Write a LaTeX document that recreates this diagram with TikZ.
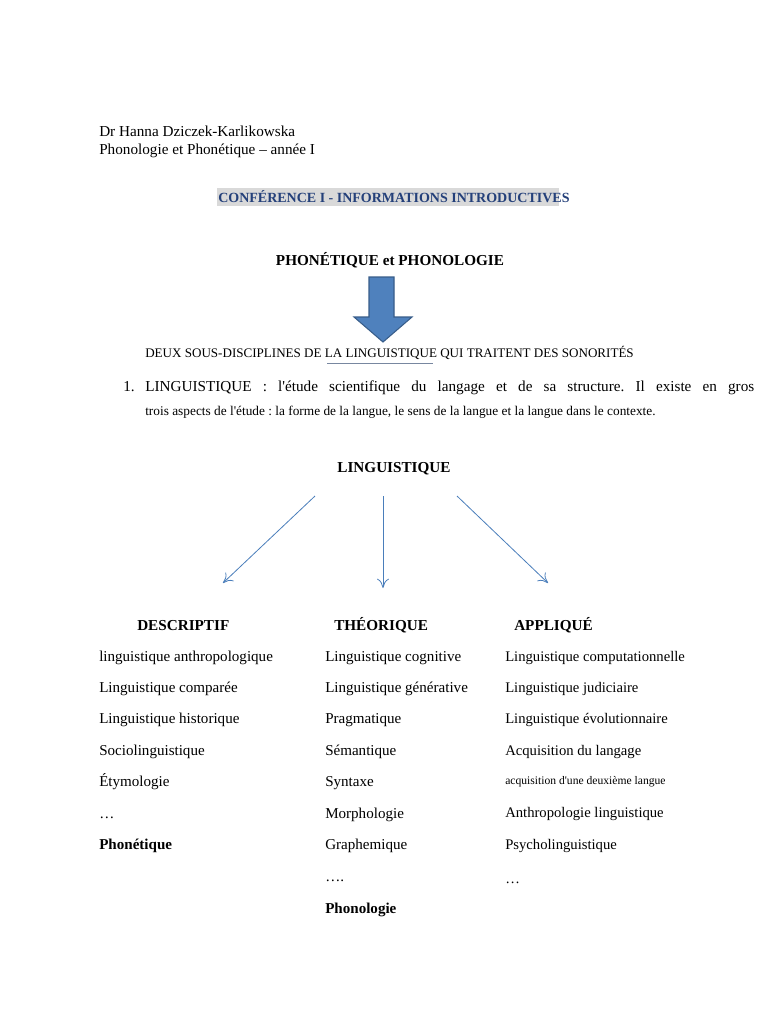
\documentclass[tikz,border=0pt]{standalone}
\usepackage{fontspec}
\setmainfont{Liberation Serif}[Ligatures=TeXOff]
\definecolor{titleblue}{RGB}{36,64,122}
\definecolor{hlgray}{RGB}{217,217,217}
\definecolor{arrfill}{RGB}{79,129,189}
\definecolor{arrdraw}{RGB}{56,93,138}
\definecolor{thinblue}{RGB}{74,126,187}
\definecolor{ulcol}{RGB}{120,135,160}
\usetikzlibrary{arrows.meta}
\tikzset{
  txt/.style={anchor=base west, inner sep=0pt, font=\fontsize{11.4pt}{14pt}\selectfont},
  bld/.style={anchor=base, inner sep=0pt, font=\fontsize{11.4pt}{14pt}\selectfont\bfseries},
  item/.style={anchor=base west, inner sep=0pt, font=\fontsize{11.3pt}{13pt}\selectfont},
  itemc/.style={anchor=base west, inner sep=0pt, font=\fontsize{11pt}{13pt}\selectfont},
  small/.style={anchor=base west, inner sep=0pt, font=\fontsize{10pt}{12pt}\selectfont},
  thinarrow/.style={draw=thinblue, line width=0.6pt, -{To[length=7pt,width=9pt]}},
}
\begin{document}
\frenchspacing
\begin{tikzpicture}[x=0.75pt,y=-0.75pt]
\useasboundingbox (0,0) rectangle (768,1024);
\fill[white] (0,0) rectangle (768,1024);
% header
\node[txt] (author) at (99,137) {Dr Hanna Dziczek-Karlikowska};
\node[txt] (course) at (99,154) {Phonologie et Phonétique – année I};
\fill[hlgray] (217,188) rectangle (559,206);
\node[anchor=base west, inner sep=0pt, font=\fontsize{10.5pt}{13pt}\selectfont\bfseries, text=titleblue] (conf) at (218,202) {CONFÉRENCE I - INFORMATIONS INTRODUCTIVES};
\node[bld] (phon) at (390,265) {PHONÉTIQUE et PHONOLOGIE};
% block arrow
\draw[fill=arrfill, draw=arrdraw, line width=0.8pt, line join=miter]
  (369,277) -- (394,277) -- (394,317) -- (412,317) -- (383,342) -- (354,317) -- (369,317) -- cycle;
% deux sous-disciplines
\node[small, font=\fontsize{9.8pt}{12pt}\selectfont] (deux) at (145,357) {DEUX SOUS-DISCIPLINES DE LA LINGUISTIQUE QUI TRAITENT DES SONORITÉS};
\draw[ulcol, line width=0.6pt] (327,363) -- (433,363);
% numbered paragraph
\node[txt] (num) at (123,391) {1.};
\node[txt] (def1) at (145,391) {\makebox[456.75pt][s]{LINGUISTIQUE : l'étude scientifique du langage et de sa structure. Il existe en gros}};
\node[small] (def2) at (145,415) {trois aspects de l'étude : la forme de la langue, le sens de la langue et la langue dans le contexte.};
% tree
\node[bld] (ling) at (394,472) {LINGUISTIQUE};
\coordinate (s1) at (315,496);
\coordinate (e1) at (223,583);
\coordinate (s2) at (383,496);
\coordinate (e2) at (383,588);
\coordinate (s3) at (457,496);
\coordinate (e3) at (548,583);
\draw[thinarrow] (s1) -- (e1);
\draw[thinarrow] (s2) -- (e2);
\draw[thinarrow] (s3) -- (e3);
\node[bld, anchor=base west] (h1) at (137,630) {DESCRIPTIF};
\node[bld, anchor=base west] (h2) at (334,630) {THÉORIQUE};
\node[bld, anchor=base west] (h3) at (514,630) {APPLIQUÉ};
% column 1
\node[item] (c1a) at (99,661) {linguistique anthropologique};
\node[item] (c1b) at (99,692) {Linguistique comparée};
\node[item] (c1c) at (99,723) {Linguistique historique};
\node[item] (c1d) at (99,755) {Sociolinguistique};
\node[item] (c1e) at (99,786) {Étymologie};
\node[item] (c1f) at (99,818) {…};
\node[item, font=\fontsize{11.3pt}{13pt}\selectfont\bfseries] (c1g) at (99,849) {Phonétique};
% column 2
\node[item] (c2a) at (325,661) {Linguistique cognitive};
\node[item] (c2b) at (325,692) {Linguistique générative};
\node[item] (c2c) at (325,723) {Pragmatique};
\node[item] (c2d) at (325,755) {Sémantique};
\node[item] (c2e) at (325,786) {Syntaxe};
\node[item] (c2f) at (325,818) {Morphologie};
\node[item] (c2g) at (325,849) {Graphemique};
\node[item] (c2h) at (325,881) {….};
\node[item, font=\fontsize{11.3pt}{13pt}\selectfont\bfseries] (c2i) at (325,913) {Phonologie};
% column 3
\node[itemc] (c3a) at (505,661) {Linguistique computationnelle};
\node[itemc] (c3b) at (505,692) {Linguistique judiciaire};
\node[itemc] (c3c) at (505,723) {Linguistique évolutionnaire};
\node[itemc] (c3d) at (505,755) {Acquisition du langage};
\node[itemc, font=\fontsize{8.7pt}{10pt}\selectfont] (c3e) at (505,784) {acquisition d'une deuxième langue};
\node[itemc] (c3f) at (505,817) {Anthropologie linguistique};
\node[itemc] (c3g) at (505,849) {Psycholinguistique};
\node[itemc] (c3h) at (505,883) {…};
\end{tikzpicture}
\end{document}
